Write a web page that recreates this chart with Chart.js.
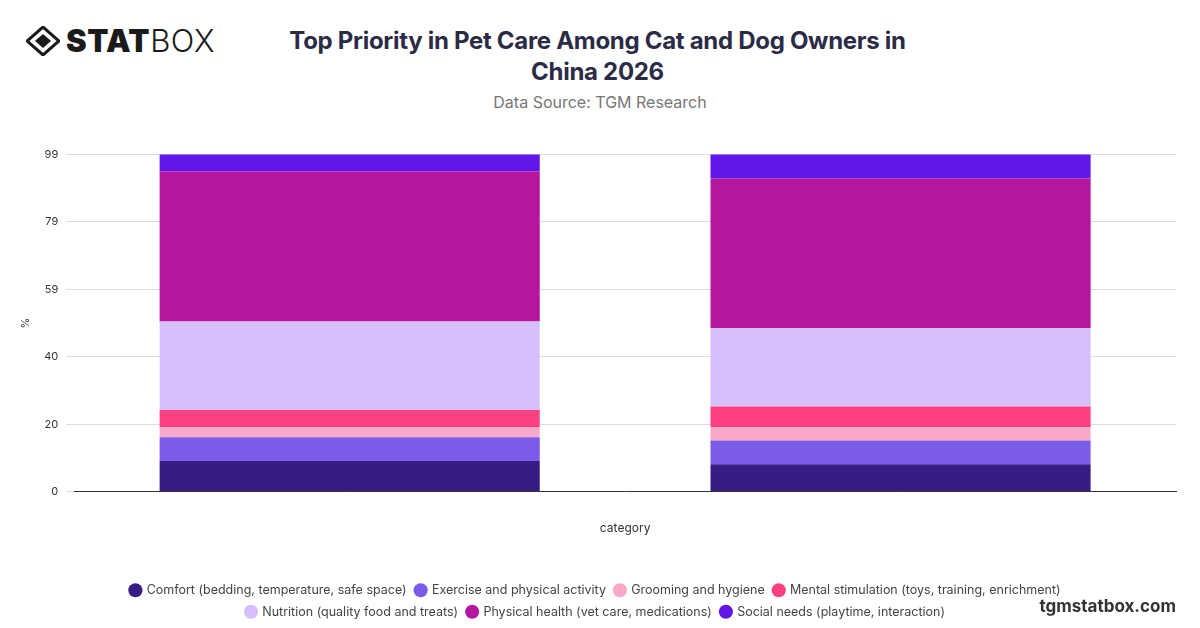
<!DOCTYPE html>
<html><head><meta charset="utf-8">
<script src="https://cdn.jsdelivr.net/npm/chart.js@4"></script>
<style>
body{margin:0;width:1200px;height:628px;background:#fff;font-family:Inter,"Noto Sans",sans-serif;position:relative;overflow:hidden}
#logo{position:absolute;left:26px;top:22px;display:flex;align-items:center;font-size:31px;color:#1a1a1a;letter-spacing:0.5px}
#title{position:absolute;left:270px;width:655px;top:25px;text-align:center;font-size:24px;font-weight:700;color:#2b2b45;line-height:31px;letter-spacing:-0.3px}
#src{position:absolute;left:0;width:1200px;top:92px;text-align:center;font-size:16px;color:#777}
#wm{position:absolute;right:24px;top:596px;font-size:17px;font-weight:700;color:#333}
#wrap{position:absolute;left:0;top:140px;width:1200px;height:488px}
</style></head><body>
<div id="logo"><svg width="34" height="30" viewBox="0 0 34 30"><path d="M17 1 L33 15 L17 29 L1 15 Z" fill="none" stroke="#1a1a1a" stroke-width="3"/><path d="M17 8 L25 15 L17 22 L9 15 Z" fill="#1a1a1a"/></svg><span style="font-weight:900;margin-left:6px">STAT</span><span style="font-weight:300">BOX</span></div>
<div id="title">Top Priority in Pet Care Among Cat and Dog Owners in China 2026</div>
<div id="src">Data Source: TGM Research</div>
<div id="wrap"><canvas id="c"></canvas></div>
<div id="wm">tgmstatbox.com</div>
<script>
const categories = ["Cat owners", "Dog owners"];
const seriesNames = ["Comfort (bedding, temperature, safe space)","Exercise and physical activity","Grooming and hygiene","Mental stimulation (toys, training, enrichment)","Nutrition (quality food and treats)","Physical health (vet care, medications)","Social needs (playtime, interaction)"];
const comfort = [9, 8];
const exercise = [7, 7];
const grooming = [3, 4];
const mental = [5, 6];
const nutrition = [26, 23];
const physical = [44, 44];
const social = [6, 8];
const colors = ["#371c86","#7b5ce8","#f9a8c9","#fb3f80","#d4bffb","#b4179e","#6216ea"];
const allSeries = [comfort, exercise, grooming, mental, nutrition, physical, social];
new Chart(document.getElementById('c'), {
  type: 'bar',
  data: { labels: categories, datasets: allSeries.map((d,i)=>({label: seriesNames[i], data: d, backgroundColor: colors[i], barPercentage: 0.69, categoryPercentage: 1}))},
  options: {
    responsive: true, maintainAspectRatio: false, animation: false,
    layout: {padding: {left: 15, right: 24, top: 0, bottom: 0}},
    plugins: {
      legend: {position: 'bottom', labels: {usePointStyle: true, pointStyle: 'circle', boxWidth: 10, boxHeight: 10, padding: 9, color: '#444', font: {family: 'Inter', size: 12.5}}},
      tooltip: {enabled: false}
    },
    scales: {
      x: {stacked: true, grid: {display: false}, border: {color: '#333'}, ticks: {display: false},
          title: {display: true, text: 'category', color: '#333', font: {family: 'Inter', size: 12}, padding: {top: 22, bottom: 39}}},
      y: {stacked: true, min: 0, max: 99, border: {display: false}, grid: {color: '#ddd'},
          ticks: {stepSize: 19.8, color: '#333', font: {family: 'Inter', size: 11}, padding: 8, callback: v => Math.round(v)},
          title: {display: true, text: '%', color: '#333', font: {family: 'Inter', size: 11}}}
    }
  }
});
</script>
</body></html>
